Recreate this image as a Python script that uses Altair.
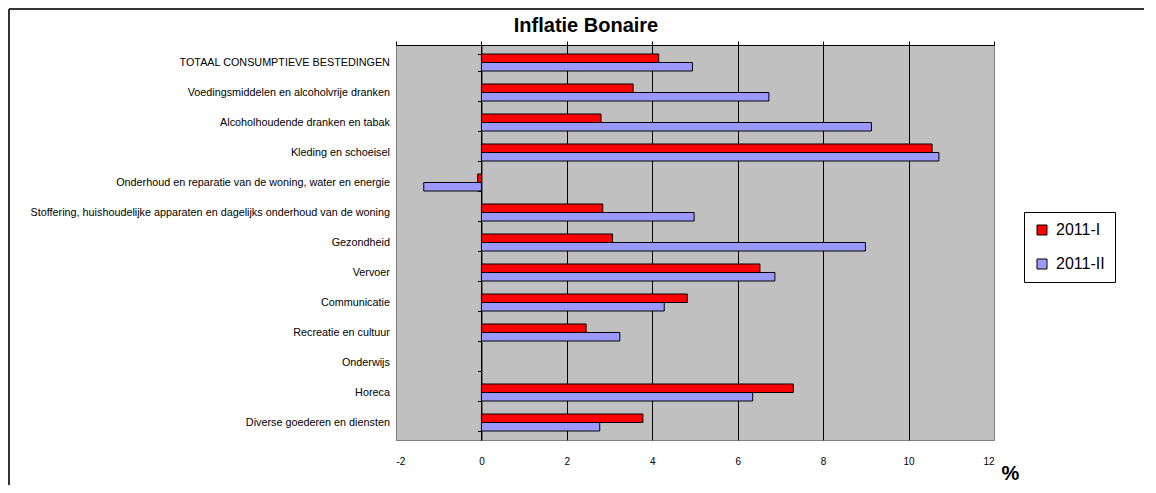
import altair as alt
import pandas as pd

categories = [
    "TOTAAL CONSUMPTIEVE BESTEDINGEN",
    "Voedingsmiddelen en alcoholvrije dranken",
    "Alcoholhoudende dranken en tabak",
    "Kleding en schoeisel",
    "Onderhoud en reparatie van de woning, water en energie",
    "Stoffering, huishoudelijke apparaten en dagelijks onderhoud van de woning",
    "Gezondheid",
    "Vervoer",
    "Communicatie",
    "Recreatie en cultuur",
    "Onderwijs",
    "Horeca",
    "Diverse goederen en diensten",
]
series_names = ["2011-I", "2011-II"]
vals_2011_I = [4.15, 3.55, 2.80, 10.55, -0.09, 2.84, 3.07, 6.52, 4.82, 2.45, None, 7.30, 3.78]
vals_2011_II = [4.94, 6.73, 9.13, 10.71, -1.35, 4.98, 8.99, 6.87, 4.28, 3.24, None, 6.35, 2.77]
x_ticks = [-2, 0, 2, 4, 6, 8, 10, 12]
colors = ["#FF0000", "#9999FF"]

rows = []
for c, a, b in zip(categories, vals_2011_I, vals_2011_II):
    if a is not None:
        rows.append({"cat": c, "serie": series_names[0], "value": a})
    if b is not None:
        rows.append({"cat": c, "serie": series_names[1], "value": b})
df = pd.DataFrame(rows)

W, H = 598, 395
FONT = "Liberation Sans"
zero_off = W * (0 - x_ticks[0]) / (x_ticks[-1] - x_ticks[0])

x_scale = alt.Scale(domain=[x_ticks[0], x_ticks[-1]], nice=False, zero=False)
y_scale = alt.Scale(domain=categories, paddingInner=0.433, paddingOuter=0.3)

bars = alt.Chart(df).mark_bar(stroke="black", strokeWidth=1).encode(
    x=alt.X(
        "value:Q",
        scale=x_scale,
        stack=None,
        axis=alt.Axis(
            orient="bottom",
            values=x_ticks,
            labelExpr="datum.value < 0 ? '-' + abs(datum.value) : '' + datum.value",
            grid=True,
            gridColor={"condition": {"test": "datum.value == -2 || datum.value == 12", "value": "#808080"}, "value": "black"},
            gridWidth=1,
            ticks=False,
            domain=False,
            labelFont=FONT,
            labelFontSize=10,
            labelColor="black",
            labelPadding=16,
            title="%",
            titleFont=FONT,
            titleFontSize=20,
            titleFontWeight="bold",
            titleColor="black",
            titleX=614,
            titleY=33,
            titleAlign="center",
            titleBaseline="middle",
        ),
    ),
    y=alt.Y(
        "cat:N",
        scale=y_scale,
        sort=categories,
        axis=alt.Axis(
            orient="left",
            offset=-zero_off,
            tickBand="extent",
            tickSize=4,
            tickColor="black",
            domainColor="black",
            labelFont=FONT,
            labelFontSize=10.8,
            labelColor="black",
            labelPadding=88,
            labelLimit=0,
            title=None,
        ),
    ),
    yOffset=alt.YOffset("serie:N", sort=series_names,
                        scale=alt.Scale(domain=series_names, paddingInner=0, paddingOuter=0)),
    color=alt.Color(
        "serie:N",
        scale=alt.Scale(domain=series_names, range=colors),
        legend=alt.Legend(
            orient="none",
            legendX=628,
            legendY=167,
            direction="vertical",
            title=None,
            fillColor="white",
            strokeColor="black",
            padding=10,
            symbolType="square",
            symbolSize=100,
            symbolStrokeColor="black",
            symbolStrokeWidth=1,
            symbolOpacity=1,
            labelFont=FONT,
            labelFontSize=16,
            labelColor="black",
            labelOffset=6,
            rowPadding=18,
        ),
    ),
)

top_axis = alt.Chart(pd.DataFrame({"v": [0]})).mark_point(opacity=0).encode(
    x=alt.X(
        "v:Q",
        scale=x_scale,
        axis=alt.Axis(
            orient="top",
            values=x_ticks,
            labels=False,
            grid=False,
            ticks=True,
            tickSize=4,
            tickColor="black",
            domainColor="black",
            title=None,
        ),
    )
)

frame_top = alt.Chart(pd.DataFrame({"k": [0]})).mark_rule(color="#333333", strokeWidth=2).encode(
    x=alt.value(-387), x2=alt.value(W + 200), y=alt.value(-36)
)
frame_left = alt.Chart(pd.DataFrame({"k": [0]})).mark_rule(color="#333333", strokeWidth=2).encode(
    x=alt.value(-387), y=alt.value(-36), y2=alt.value(H + 100)
)

chart = (
    alt.layer(bars, top_axis, frame_top, frame_left)
    .resolve_axis(x="independent")
    .properties(
        width=W,
        height=H,
        autosize=alt.AutoSizeParams(type="none"),
        padding={"left": 388, "top": 37, "right": 150, "bottom": 45},
        title=alt.Title(
            "Inflatie Bonaire",
            font=FONT,
            fontSize=20,
            fontWeight="bold",
            color="black",
            anchor="middle",
            frame="group",
            dx=-109,
            offset=-28,
        ),
    )
    .configure(background="white", view=alt.ViewConfig(fill="#C0C0C0", stroke="#808080", strokeWidth=1))
)

chart.save("out.html", embed_options={"renderer": "svg", "actions": False})
